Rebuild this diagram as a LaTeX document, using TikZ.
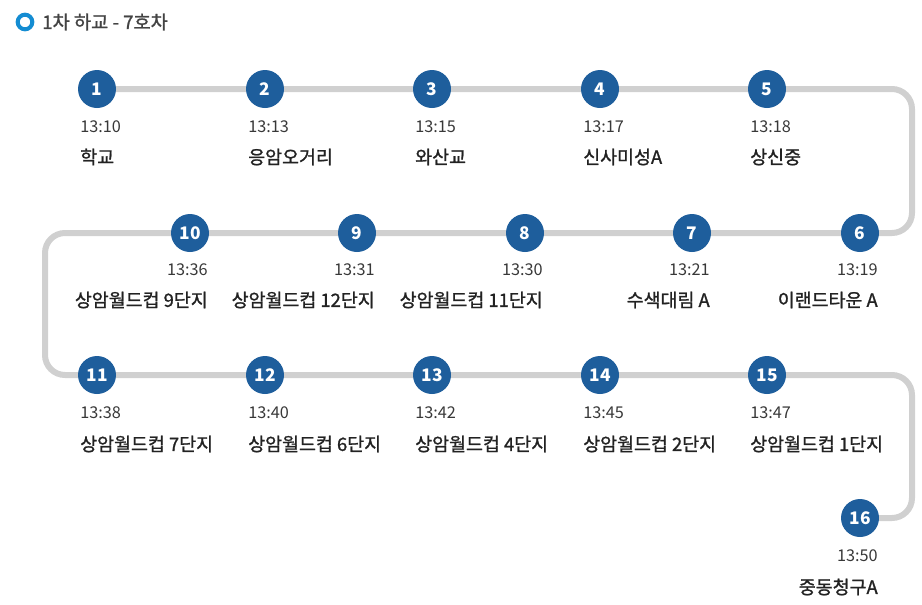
\documentclass[tikz,border=0pt]{standalone}
\usepackage{fontspec}
\setmainfont{Noto Sans CJK KR}
\newfontfamily\medfont{Noto Sans CJK KR}[FakeBold=1.2]
\usepackage{tikz}
\definecolor{stopblue}{RGB}{30,94,156}
\definecolor{ringblue}{RGB}{20,140,210}
\definecolor{track}{RGB}{208,208,208}
\definecolor{txt}{RGB}{34,34,34}
\tikzset{
  stop/.style={circle, fill=stopblue, text=white, minimum size=28.5pt, inner sep=0pt, font=\fontsize{13}{13}\selectfont\bfseries},
  tm/.style={text=txt!90, font=\fontsize{12.2}{12.2}\selectfont, inner sep=0pt},
  nm/.style={text=txt, font=\fontsize{13.8}{13.8}\selectfont\medfont, inner sep=0pt}
}
\begin{document}
\begin{tikzpicture}[x=0.75pt,y=-0.75pt]
	\useasboundingbox (0,0) rectangle (922,604);
	% header
	\node[circle, draw=ringblue, line width=3pt, minimum size=11pt, inner sep=0pt] (ring) at (25,22) {};
	\node[anchor=west, text=txt!85, font=\fontsize{14}{14}\selectfont\medfont, inner sep=0pt] (title) at (42,22) {1차 하교 - 7호차};
	% track
	\coordinate (tend) at (860,518);
	\draw[track, line width=4.5pt, rounded corners=15pt] (97,89) -- (912,89) -- (912,233) -- (45,233) -- (45,375) -- (912,375) -- (912,518) -- (tend);
	% row 1
	\foreach \n/\x/\t/\s in {1/97/13:10/학교, 2/265/13:13/응암오거리, 3/432/13:15/와산교, 4/600/13:17/신사미성A, 5/767/13:18/상신중}{
		\node[stop] (s\n) at (\x,89) {\n};
		\node[tm, anchor=west] (t\n) at (\x-17,127) {\t};
		\node[nm, anchor=west] (n\n) at (\x-17,157) {\s};
	}
	% row 2
	\foreach \n/\x/\t/\s in {10/190/13:36/상암월드컵 9단지, 9/357/13:31/상암월드컵 12단지, 8/525/13:30/상암월드컵 11단지, 7/692/13:21/수색대림 A, 6/860/13:19/이랜드타운 A}{
		\node[stop] (s\n) at (\x,233) {\n};
		\node[tm, anchor=east] (t\n) at (\x+18,270) {\t};
		\node[nm, anchor=east] (n\n) at (\x+18,300) {\s};
	}
	% row 3
	\foreach \n/\x/\t/\s in {11/97/13:38/상암월드컵 7단지, 12/265/13:40/상암월드컵 6단지, 13/432/13:42/상암월드컵 4단지, 14/600/13:45/상암월드컵 2단지, 15/767/13:47/상암월드컵 1단지}{
		\node[stop] (s\n) at (\x,375) {\n};
		\node[tm, anchor=west] (t\n) at (\x-17,413) {\t};
		\node[nm, anchor=west] (n\n) at (\x-17,444) {\s};
	}
	% last stop
	\node[stop] (s16) at (860,518) {16};
	\node[tm, anchor=east] (t16) at (878,556) {13:50};
	\node[nm, anchor=east] (n16) at (878,587) {중동청구A};
\end{tikzpicture}
\end{document}
